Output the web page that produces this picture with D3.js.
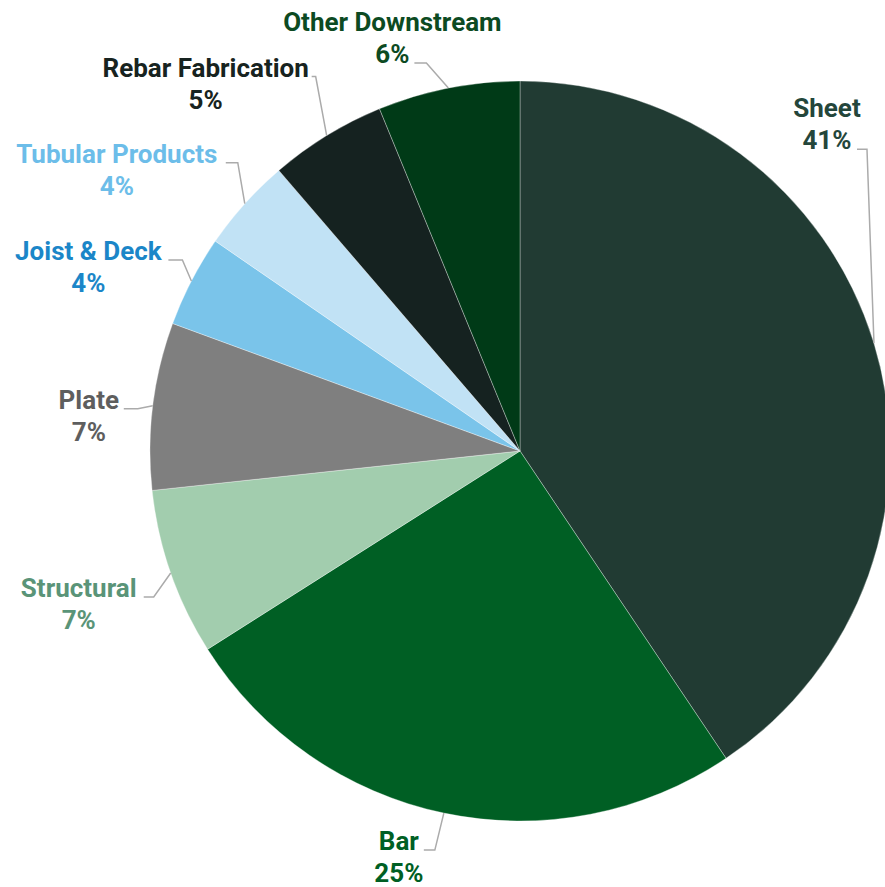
<!DOCTYPE html>
<html>
<head>
<meta charset="utf-8">
<script src="https://cdn.jsdelivr.net/npm/d3@7/dist/d3.min.js"></script>
<style>
  html, body { margin: 0; padding: 0; background: #ffffff; }
  svg { display: block; }
  text { font-family: Roboto, "Noto Sans", sans-serif; font-weight: 700; }
</style>
</head>
<body>
<svg id="chart" width="885" height="887"></svg>
<script>
// Shipment mix by product segment (share of total, %)
const categories = ["Sheet", "Bar", "Structural", "Plate", "Joist & Deck", "Tubular Products", "Rebar Fabrication", "Other Downstream"];
const shares = [40.6, 25.4, 7.3, 7.3, 4.0, 4.1, 5.1, 6.2];

// Slice fills and label colours, one per category
const sliceColors = ["#213b33", "#005f24", "#a2cdae", "#7f7f7f", "#7ac4ea", "#c1e2f5", "#152220", "#003a17"];
const labelColors = ["#24463b", "#005f24", "#5a9478", "#5e5e5e", "#1b86c8", "#6cbde9", "#172320", "#0c4a22"];

// Connector layout per label: elbow offset from the slice edge, horizontal run,
// label centre offset from the end of the run, and which text row the run meets.
const labelLayout = [
  { dx: -7,  dy: -194, run: -10, lx: -30,  row: 2 },
  { dx: -9,  dy: 37,   run: -11, lx: -25,  row: 1 },
  { dx: -17, dy: 24,   run: -10, lx: -65,  row: 1 },
  { dx: -15, dy: 3,    run: -14, lx: -35,  row: 1 },
  { dx: -9,  dy: -21,  run: -14, lx: -80,  row: 1 },
  { dx: -7,  dy: -41,  run: -12, lx: -109, row: 1 },
  { dx: -11, dy: -59,  run: -4,  lx: -106, row: 1 },
  { dx: -22, dy: -25,  run: -12, lx: -22,  row: 2 }
];

const cx = 520, cy = 451, radius = 370;
const fontSize = 26, lineGap = 32;

const svg = d3.select("#chart");
const g = svg.append("g").attr("transform", `translate(${cx},${cy})`);

const data = categories.map((name, i) => ({ name, value: shares[i], i }));

const pie = d3.pie().value(d => d.value).sort(null).startAngle(0).endAngle(2 * Math.PI);
const arc = d3.arc().innerRadius(0).outerRadius(radius);
const arcs = pie(data);

g.selectAll("path.slice")
  .data(arcs)
  .join("path")
  .attr("class", "slice")
  .attr("d", arc)
  .attr("fill", d => sliceColors[d.data.i])
  .attr("stroke", "#ffffff")
  .attr("stroke-opacity", 0.55)
  .attr("stroke-width", 0.6);

// Leader lines and two-row labels
arcs.forEach(d => {
  const L = labelLayout[d.data.i];
  const mid = (d.startAngle + d.endAngle) / 2;
  const px = radius * Math.sin(mid);
  const py = -radius * Math.cos(mid);
  const ex = px + L.dx, ey = py + L.dy;
  const hx = ex + L.run;

  g.append("polyline")
    .attr("points", [[px, py], [ex, ey], [hx, ey]].map(p => p.join(",")).join(" "))
    .attr("fill", "none")
    .attr("stroke", "#ababab")
    .attr("stroke-width", 1.5);

  const base1 = L.row === 1 ? ey : ey - lineGap;
  const t = g.append("text")
    .attr("text-anchor", "middle")
    .attr("fill", labelColors[d.data.i])
    .attr("font-size", fontSize);
  t.append("tspan").attr("x", hx + L.lx).attr("y", base1).text(d.data.name);
  t.append("tspan").attr("x", hx + L.lx).attr("y", base1 + lineGap).text(Math.round(d.data.value) + "%");
});
</script>
</body>
</html>
